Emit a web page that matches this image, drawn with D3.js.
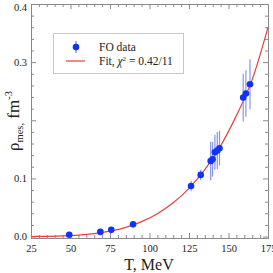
<!DOCTYPE html>
<html>
<head>
<meta charset="utf-8">
<script src="https://cdn.jsdelivr.net/npm/d3@7"></script>
<style>
body { margin: 0; background: #fff; }
text { font-family: "Liberation Serif", "DejaVu Serif", serif; }
</style>
</head>
<body>
<div id="chart"></div>
<script>
// FO data points (T in MeV, density in fm^-3, error)
const foT   = [49.2, 68.9, 75.8, 89.6, 126.3, 132.4, 138.7, 139.9, 141.4, 142.9, 144.3, 159.3, 161.0, 163.6];
const foRho = [0.003, 0.008, 0.0115, 0.021, 0.087, 0.106, 0.130, 0.133, 0.145, 0.148, 0.152, 0.239, 0.246, 0.262];
const foErr = [0.002, 0.002, 0.002, 0.003, 0.009, 0.009, 0.033, 0.030, 0.030, 0.032, 0.030, 0.041, 0.040, 0.043];

// fit curve
const fitT   = [25, 35, 45, 55, 65, 75, 85, 95, 105, 115, 125, 135, 145, 155, 165, 175];
const fitRho = [0.0001, 0.0004, 0.001, 0.0024, 0.005, 0.0093, 0.0158, 0.0256, 0.0393, 0.058, 0.083, 0.115, 0.156, 0.208, 0.270, 0.360];

const xTicks = [25, 50, 75, 100, 125, 150, 175];
const yTicks = [0.0, 0.1, 0.2, 0.3, 0.4];
const yTickLabels = ["0.0", "0.1", "", "0.3", "0.4"];

let width = 273;
let height = 273;
const svg = d3.select("#chart").append("svg")
    .attr("width", width)
    .attr("height", height);

const mLeft = 31, mRight = 268, mTop = 4, mBottom = 238;

const x = d3.scaleLinear().domain([25, 175]).range([mLeft, mRight]);
const y = d3.scaleLinear().domain([-0.0025, 0.4]).range([mBottom, mTop]);

const frameColor = "#8a8a8a";

// minor ticks
const xMinor = d3.range(25, 176, 5).filter(v => v % 25 != 0);
const yMinor = d3.range(0, 0.401, 0.02).filter(v => Math.abs(v * 10 - Math.round(v * 10)) > 0.01);

function styleAxis(g) {
    g.selectAll("path").attr("stroke", frameColor).attr("stroke-width", 1);
    g.selectAll("line").attr("stroke", frameColor);
    g.selectAll("text")
        .attr("fill", "#222")
        .style("font-size", "10.5px")
        .style("font-family", "Liberation Serif, serif");
}

// bottom
svg.append("g").attr("transform", `translate(0,${mBottom})`)
    .call(d3.axisBottom(x).tickValues(xTicks).tickSize(-5).tickPadding(7).tickFormat(d3.format("d")))
    .call(styleAxis);
svg.append("g").attr("transform", `translate(0,${mBottom})`)
    .call(d3.axisBottom(x).tickValues(xMinor).tickSize(-3).tickFormat(""))
    .call(styleAxis);
// top
svg.append("g").attr("transform", `translate(0,${mTop})`)
    .call(d3.axisTop(x).tickValues(xTicks).tickSize(-5).tickFormat(""))
    .call(styleAxis);
svg.append("g").attr("transform", `translate(0,${mTop})`)
    .call(d3.axisTop(x).tickValues(xMinor).tickSize(-3).tickFormat(""))
    .call(styleAxis);
// left
svg.append("g").attr("transform", `translate(${mLeft},0)`)
    .call(d3.axisLeft(y).tickValues(yTicks).tickSize(-5).tickPadding(4)
        .tickFormat((d, i) => yTickLabels[i]))
    .call(styleAxis);
svg.append("g").attr("transform", `translate(${mLeft},0)`)
    .call(d3.axisLeft(y).tickValues(yMinor).tickSize(-3).tickFormat(""))
    .call(styleAxis);
// right
svg.append("g").attr("transform", `translate(${mRight},0)`)
    .call(d3.axisRight(y).tickValues(yTicks).tickSize(-5).tickFormat(""))
    .call(styleAxis);
svg.append("g").attr("transform", `translate(${mRight},0)`)
    .call(d3.axisRight(y).tickValues(yMinor).tickSize(-3).tickFormat(""))
    .call(styleAxis);

// the 0.4 label sits a bit lower so it fits
svg.selectAll("text").filter(function() { return d3.select(this).text() == "0.4"; })
    .attr("dy", "0.6em");

// fit curve
const line = d3.line()
    .x((d, i) => x(fitT[i]))
    .y((d, i) => y(fitRho[i]))
    .curve(d3.curveMonotoneX);
svg.append("path")
    .datum(fitT)
    .attr("d", line)
    .attr("fill", "none")
    .attr("stroke", "#e8413a")
    .attr("stroke-width", 1.2);

// error bars
svg.selectAll(".err")
    .data(foT)
    .enter()
    .append("line")
    .attr("class", "err")
    .attr("x1", d => x(d))
    .attr("x2", d => x(d))
    .attr("y1", (d, i) => y(foRho[i] - foErr[i]))
    .attr("y2", (d, i) => y(foRho[i] + foErr[i]))
    .attr("stroke", "#6a7ae8")
    .attr("stroke-width", 1.2)
    .attr("stroke-opacity", 0.8);

// points
svg.selectAll(".pt")
    .data(foT)
    .enter()
    .append("circle")
    .attr("class", "pt")
    .attr("cx", d => x(d))
    .attr("cy", (d, i) => y(foRho[i]))
    .attr("r", 3.3)
    .attr("fill", "#1032ff");

// legend
svg.append("rect")
    .attr("x", 53.5).attr("y", 33.5)
    .attr("width", 130).attr("height", 40)
    .attr("fill", "#fff")
    .attr("stroke", "#c8c8c8");
svg.append("line")
    .attr("x1", 76).attr("x2", 76).attr("y1", 41).attr("y2", 53)
    .attr("stroke", "#6a7ae8").attr("stroke-width", 1.2);
svg.append("circle")
    .attr("cx", 76).attr("cy", 47).attr("r", 3.3)
    .attr("fill", "#1032ff");
svg.append("line")
    .attr("x1", 66).attr("x2", 85).attr("y1", 61).attr("y2", 61)
    .attr("stroke", "#e8413a").attr("stroke-width", 1.2);
svg.append("text")
    .attr("x", 99).attr("y", 50.5)
    .style("font-size", "11.5px")
    .attr("fill", "#222")
    .text("FO data");
const fitLabel = svg.append("text")
    .attr("x", 99).attr("y", 64.5)
    .style("font-size", "11.5px")
    .attr("fill", "#222");
fitLabel.append("tspan").text("Fit, ");
fitLabel.append("tspan").style("font-style", "italic").text("χ");
fitLabel.append("tspan").attr("dy", -4).style("font-size", "7px").text("2");
fitLabel.append("tspan").attr("dy", 4).text(" = 0.42/11");

// axis titles
svg.append("text")
    .attr("x", 149).attr("y", 270)
    .attr("text-anchor", "middle")
    .style("font-size", "16px")
    .attr("fill", "#222")
    .text("T, MeV");

const yLabel = svg.append("text")
    .attr("transform", "translate(19,121) rotate(-90)")
    .attr("text-anchor", "middle")
    .style("font-size", "17px")
    .attr("fill", "#222");
yLabel.append("tspan").text("ρ");
yLabel.append("tspan").attr("dy", 4).style("font-size", "10.5px").text("mes,");
yLabel.append("tspan").attr("dy", -4).text(" fm");
yLabel.append("tspan").attr("dy", -7).style("font-size", "10.5px").text("-3");
</script>
</body>
</html>
